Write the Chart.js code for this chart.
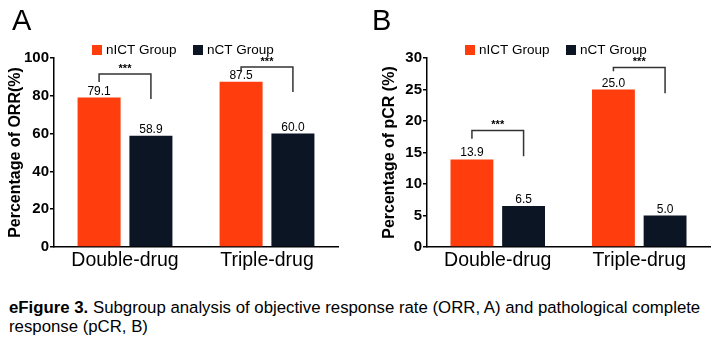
<!DOCTYPE html>
<html lang="en">
<head>
  <meta charset="UTF-8" />
  <title>eFigure 3</title>
  <script src="https://cdn.jsdelivr.net/npm/chart.js"></script>
  <style>
    body { margin: 0; background: #fff; font-family: "Liberation Sans", Arial, sans-serif; }
    .panel { position: absolute; top: 0; height: 280px; }
    #caption { position: absolute; left: 9px; top: 298px; font-size: 16.8px; line-height: 19px; color: #000; white-space: nowrap; }
  </style>
</head>
<body>
  <div class="panel" style="left:0;width:360px"><canvas id="chartA"></canvas></div>
  <div class="panel" style="left:360px;width:359px"><canvas id="chartB"></canvas></div>
  <div id="caption"><b>eFigure 3.</b> Subgroup analysis of objective response rate (ORR, A) and pathological complete<br>response (pCR, B)</div>

  <script>
    const categories = ['Double-drug', 'Triple-drug'];
    const seriesNames = ['nICT Group', 'nCT Group'];

    const orrNict = [79.1, 87.5];
    const orrNct = [58.9, 60.0];
    const pcrNict = [13.9, 25.0];
    const pcrNct = [6.5, 5.0];

    // significance brackets, in axis units: top, left leg end, right leg end
    const orrBracketTop = [91.5, 95.2];
    const orrBracketLeft = [87.3, 92.6];
    const orrBracketRight = [78.3, 82.0];
    const pcrBracketTop = [18.5, 28.5];
    const pcrBracketLeft = [17.2, 27.9];
    const pcrBracketRight = [14.4, 24.4];

    const orange = '#ff3d0d';
    const navy = '#0b1524';
    const font = '"Liberation Sans", Arial, sans-serif';

    // value labels, brackets, legend and panel letter
    const extras = {
      id: 'extras',
      afterDatasetsDraw(chart, args, opts) {
        const ctx = chart.ctx;
        const y = chart.scales.y;
        const area = chart.chartArea;
        const m0 = chart.getDatasetMeta(0), m1 = chart.getDatasetMeta(1);
        ctx.save();
        ctx.fillStyle = '#000';
        ctx.textAlign = 'center';
        ctx.textBaseline = 'alphabetic';
        ctx.font = '12px ' + font;
        [m0, m1].forEach((m, di) => {
          m.data.forEach((bar, i) => {
            const v = chart.data.datasets[di].data[i];
            ctx.fillText(v.toFixed(1), bar.x, bar.y - 3);
          });
        });
        ctx.strokeStyle = '#333';
        ctx.lineWidth = 1.5;
        opts.top.forEach((t, i) => {
          const xl = m0.data[i].x, xr = m1.data[i].x;
          const yt = y.getPixelForValue(t);
          ctx.beginPath();
          ctx.moveTo(xl, y.getPixelForValue(opts.left[i]));
          ctx.lineTo(xl, yt);
          ctx.lineTo(xr, yt);
          ctx.lineTo(xr, y.getPixelForValue(opts.right[i]));
          ctx.stroke();
          ctx.font = 'bold 11px ' + font;
          ctx.fillText('***', (xl + xr) / 2, yt - 2);
        });
        // legend
        ctx.textAlign = 'left';
        ctx.textBaseline = 'middle';
        ctx.font = '13.5px ' + font;
        const lx = [area.left + 38, area.left + 139];
        chart.data.datasets.forEach((ds, i) => {
          ctx.fillStyle = ds.backgroundColor;
          ctx.fillRect(lx[i], 45, 10, 10);
          ctx.fillStyle = '#000';
          ctx.fillText(ds.label, lx[i] + 14, 50);
        });
        ctx.textBaseline = 'alphabetic';
        ctx.font = '29px ' + font;
        ctx.fillText(opts.letter, 12, 30);
        ctx.restore();
      }
    };

    function makeChart(id, nict, nct, max, step, title, yWidth, titlePad, padRight, br, letter) {
      return new Chart(document.getElementById(id), {
        type: 'bar',
        data: {
          labels: categories,
          datasets: [
            { label: seriesNames[0], data: nict, backgroundColor: orange },
            { label: seriesNames[1], data: nct, backgroundColor: navy }
          ]
        },
        options: {
          responsive: true,
          maintainAspectRatio: false,
          animation: false,
          layout: { padding: { top: 58, right: padRight, left: 0, bottom: 0 } },
          datasets: { bar: { categoryPercentage: 0.73, barPercentage: 0.83 } },
          plugins: {
            legend: { display: false },
            tooltip: { enabled: false },
            extras: { top: br[0], left: br[1], right: br[2], letter: letter }
          },
          scales: {
            x: {
              grid: { display: false, drawTicks: false, tickLength: 0 },
              border: { display: true, color: '#000', width: 1.5 },
              ticks: { color: '#000', padding: 2, font: { family: font, size: 19.5 } },
              afterFit: s => { s.height = 33; }
            },
            y: {
              min: 0,
              max: max,
              border: { display: true, color: '#000', width: 1.5 },
              grid: { drawOnChartArea: false, drawTicks: true, tickLength: 4, color: '#000', lineWidth: 1.5 },
              ticks: { stepSize: step, color: '#000', padding: 1, font: { family: font, size: 15, weight: 'bold' } },
              title: { display: true, text: title, color: '#000', padding: { top: titlePad, bottom: 0 }, font: { family: font, size: 16, weight: 'bold' } },
              afterFit: s => { s.width = yWidth; }
            }
          }
        },
        plugins: [extras]
      });
    }

    makeChart('chartA', orrNict, orrNct, 100, 20, 'Percentage of ORR(%)', 54, 6, 22,
      [orrBracketTop, orrBracketLeft, orrBracketRight], 'A');
    makeChart('chartB', pcrNict, pcrNct, 30, 5, 'Percentage of pCR (%)', 67, 20, 9,
      [pcrBracketTop, pcrBracketLeft, pcrBracketRight], 'B');
  </script>
</body>
</html>
